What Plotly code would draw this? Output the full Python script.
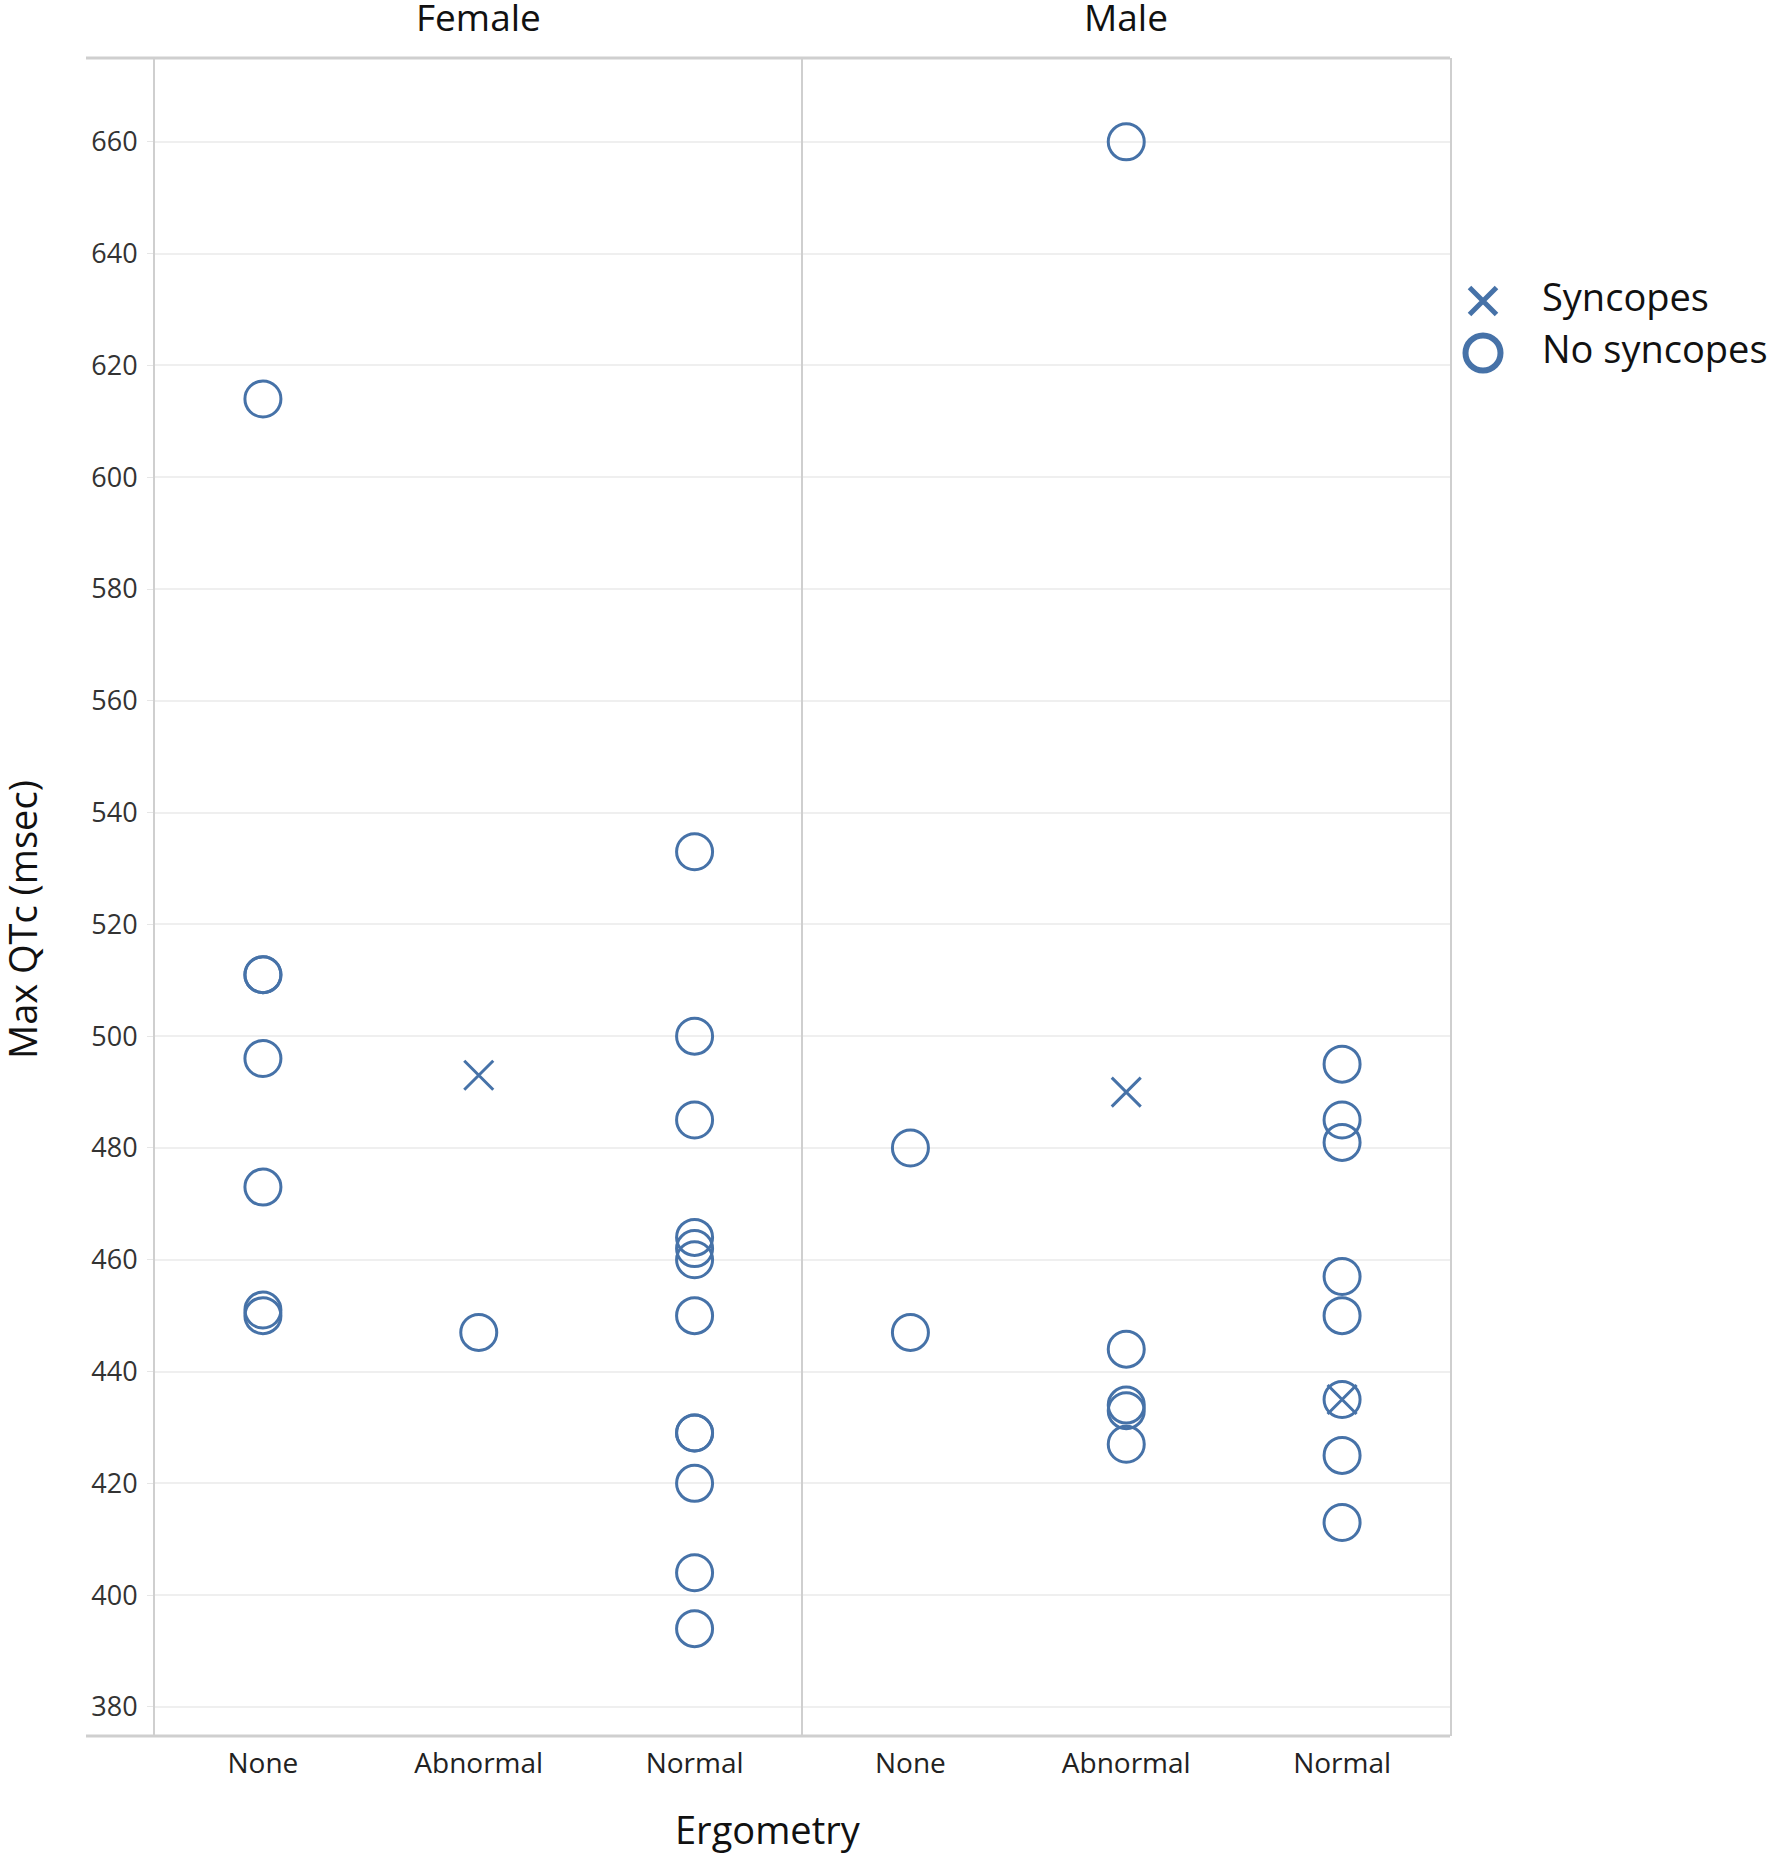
import plotly.graph_objects as go
from plotly.subplots import make_subplots

# ---- data ----
categories = ["None", "Abnormal", "Normal"]
panels = ["Female", "Male"]

female_none_nosync = [614, 511, 511, 496, 473, 451, 450]
female_abn_sync = [493]
female_abn_nosync = [447]
female_norm_nosync = [533, 500, 485, 464, 462, 460, 450, 429, 429, 420, 404, 394]

male_none_nosync = [480, 447]
male_abn_sync = [490]
male_abn_nosync = [660, 444, 434, 433, 427]
male_norm_sync = [435]
male_norm_nosync = [495, 485, 481, 457, 450, 435, 425, 413]

y_ticks = list(range(380, 661, 20))

legend_labels = ["Syncopes", "No syncopes"]
legend_symbols = ["x-thin-open", "circle-open"]

COLOR = "#4672a8"
FONT = "Open Sans"

# geometry (page px)
W, H = 1770, 1853
ML, MR, MT, MB = 155, 0, 58, 117
PW = W - ML - MR          # paper width
PH = H - MT - MB          # paper height
PLOT_W = 1295             # width of the two panels together
d_split = (PLOT_W / 2) / PW
d_end = PLOT_W / PW
PLOT_BOTTOM = H - MB


def px_x(p):
    return (p - ML) / PW


def px_y(p):
    return (PLOT_BOTTOM - p) / PH


fig = make_subplots(rows=1, cols=2, shared_yaxes=True, horizontal_spacing=0)

panel_data = [
    (1, {"Syncopes": [("Abnormal", female_abn_sync)],
         "No syncopes": [("None", female_none_nosync), ("Abnormal", female_abn_nosync),
                         ("Normal", female_norm_nosync)]}),
    (2, {"Syncopes": [("Abnormal", male_abn_sync), ("Normal", male_norm_sync)],
         "No syncopes": [("None", male_none_nosync), ("Abnormal", male_abn_nosync),
                         ("Normal", male_norm_nosync)]}),
]

for col, groups in panel_data:
    for name in ["No syncopes", "Syncopes"]:
        xs, ys = [], []
        for cat, vals in groups[name]:
            xs += [cat] * len(vals)
            ys += vals
        if name == "Syncopes":
            marker = dict(symbol="x-thin-open", size=29, color=COLOR,
                          line=dict(width=3, color=COLOR))
        else:
            marker = dict(symbol="circle-open", size=36, color=COLOR,
                          line=dict(width=3, color=COLOR))
        fig.add_trace(go.Scatter(x=xs, y=ys, mode="markers", name=name,
                                 showlegend=False, marker=marker, cliponaxis=False),
                      row=1, col=col)

# custom legend drawn on its own small axes (big bold glyphs like the reference)
for lab, sym in zip(legend_labels, legend_symbols):
    if sym.startswith("x"):
        mk = dict(symbol=sym, size=27, color=COLOR, line=dict(width=5, color=COLOR))
    else:
        mk = dict(symbol=sym, size=35, color=COLOR, line=dict(width=6, color=COLOR))
    fig.add_trace(go.Scatter(x=["mark"], y=[lab], mode="markers", marker=mk,
                             showlegend=False, cliponaxis=False,
                             xaxis="x3", yaxis="y3", hoverinfo="skip"))
fig.add_trace(go.Scatter(x=["label"] * len(legend_labels), y=legend_labels, mode="text",
                         text=legend_labels, textposition="middle right",
                         textfont=dict(family=FONT, size=38, color="#111"),
                         showlegend=False, cliponaxis=False,
                         xaxis="x3", yaxis="y3", hoverinfo="skip"))

for col in [1, 2]:
    fig.update_xaxes(type="category", categoryorder="array", categoryarray=categories,
                     range=[-0.5, 2.5], showgrid=False, zeroline=False,
                     showline=False, ticks="", ticklabelstandoff=8,
                     tickfont=dict(family=FONT, size=28, color="#222"),
                     row=1, col=col)
fig.update_xaxes(domain=[0, d_split], row=1, col=1)
fig.update_xaxes(domain=[d_split, d_end], row=1, col=2)

fig.update_yaxes(range=[374.8, 675], tickvals=y_ticks, showgrid=True,
                 gridcolor="#efefef", gridwidth=2, zeroline=False,
                 showline=True, linecolor="#cfcfcf", linewidth=2,
                 ticks="outside", ticklen=6, tickcolor="#e6e6e6",
                 ticklabelstandoff=4,
                 tickfont=dict(family=FONT, size=27, color="#333"),
                 row=1, col=1)
fig.update_yaxes(range=[374.8, 675], tickvals=y_ticks, showgrid=True,
                 gridcolor="#efefef", gridwidth=2, zeroline=False,
                 showline=True, linecolor="#cfcfcf", linewidth=2, mirror=True,
                 ticks="", showticklabels=False,
                 row=1, col=2)

# legend axes: "mark" at page x~1483, "label" at ~1542; rows 52px apart
LX0 = 1456
unit = 59.0
r0 = -(1483 - LX0) / unit
r1 = r0 + (W - LX0) / unit
fig.update_layout(
    xaxis3=dict(domain=[px_x(LX0), 1.0], type="category", categoryarray=["mark", "label"],
                categoryorder="array", range=[r0, r1], visible=False,
                fixedrange=True),
    yaxis3=dict(domain=[px_y(379), px_y(275)], type="category",
                categoryarray=legend_labels[::-1], categoryorder="array",
                range=[-0.5, 1.5], visible=False, anchor="x3", fixedrange=True),
)

# top and bottom border lines spanning the label pane
for yv in [0, 1]:
    fig.add_shape(type="line", xref="paper", yref="paper", x0=px_x(86), x1=d_end,
                  y0=yv, y1=yv, line=dict(color="#cfcfcf", width=3))

# panel headers
for i, p in enumerate(panels):
    fig.add_annotation(text=p, xref="paper", yref="paper",
                       x=(0.5 + i) * d_split, y=1,
                       xanchor="center", yanchor="bottom", yshift=14, showarrow=False,
                       font=dict(family=FONT, size=37, color="#111"))

fig.add_annotation(text="Ergometry", xref="paper", yref="paper", x=px_x(768), y=0,
                   xanchor="center", yanchor="top", yshift=-65, showarrow=False,
                   font=dict(family=FONT, size=38, color="#111"))
fig.add_annotation(text="Max QTc (msec)", xref="paper", yref="paper",
                   x=px_x(22), y=px_y(920),
                   xanchor="center", yanchor="middle", textangle=-90, showarrow=False,
                   font=dict(family=FONT, size=38, color="#111"))

fig.update_layout(
    width=W, height=H,
    margin=dict(l=ML, r=MR, t=MT, b=MB),
    paper_bgcolor="white", plot_bgcolor="white",
    showlegend=False,
)

fig.write_html("out.html",
               config={"displayModeBar": False},
               post_script="document.body.style.margin='0';"
                           "document.body.style.overflow='hidden';")
